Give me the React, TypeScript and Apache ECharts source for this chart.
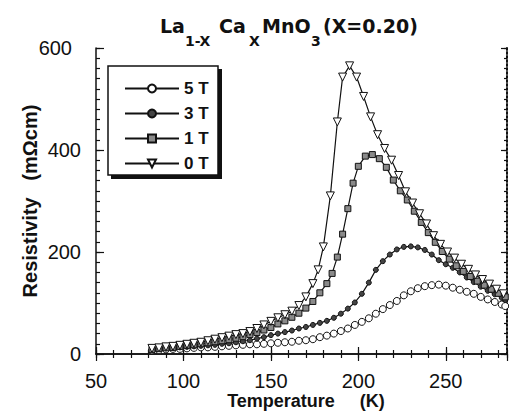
import React, { useEffect, useRef } from "react";
import * as echarts from "echarts";

// Temperature (K) and resistivity (mΩcm) readings for each field
const T5 = [82,86,90,94,98,102,106,110,114,118,122,126,130,134,138,142,146,150,154,158,162,166,170,174,178,182,186,190,194,198,202,206,210,214,218,222,226,230,234,238,242,246,250,254,258,262,266,270,274,278,282,284];
const R5 = [7,8,9,10,10,11,12,13,13,14,15,16,17,18,19,19,20,21,22,23,24,26,27,29,33,36,40,45,50,57,63,70,79,88,96,104,115,123,129,133,135,136,134,130,126,122,118,112,107,102,97,94];

const T3 = [82,86,90,94,98,102,106,110,114,118,122,126,130,134,138,142,146,150,154,158,162,166,170,174,178,182,186,190,194,198,202,206,210,214,218,222,226,230,234,238,242,246,250,254,258,262,266,270,274,278,282,284];
const R3 = [9,10,11,12,13,14,15,16,17,18,20,21,23,25,27,30,33,37,40,43,46,50,53,57,61,65,71,79,89,101,118,140,165,182,195,205,210,211,209,204,195,184,176,169,160,150,141,132,124,117,110,106];

const T1 = [82,86,90,94,98,102,106,110,114,118,122,126,130,134,138,142,146,150,154,158,162,166,170,174,178,182,185,188,191,194,197,200,204,208,212,216,220,224,228,232,236,240,244,248,252,256,260,264,268,272,276,280,284];
const R1 = [9,11,12,13,15,17,18,20,22,24,26,28,31,34,38,42,47,52,59,65,72,80,90,103,120,138,158,190,235,285,335,368,388,391,383,366,341,320,302,280,258,238,219,201,186,173,162,152,143,135,127,119,112];

const T0 = [82,86,90,94,98,102,106,110,114,118,122,126,130,134,138,142,146,150,154,158,162,166,170,174,177,180,184,188,191,195,199,203,207,211,215,219,223,227,231,235,239,243,247,251,255,259,263,267,271,275,279,283];
const R0 = [11,12,14,15,17,19,21,23,26,29,32,35,38,40,44,50,57,64,71,77,84,95,112,138,165,210,310,455,543,565,543,505,465,430,403,380,350,318,296,275,255,232,215,200,188,176,166,155,146,137,127,118];

const SERIES_NAMES = ["5 T", "3 T", "1 T", "0 T"];
const X_MIN = 50, X_MAX = 285, X_STEP = 50, X_MINOR = 10;
const Y_MIN = 0, Y_MAX = 600, Y_STEP = 200, Y_MINOR = 20;

const pairs = (t: number[], r: number[]) => t.map((v, i) => [v, r[i]]);

export default function App() {
  const ref = useRef<HTMLDivElement>(null);
  useEffect(() => {
    if (!ref.current) return;
    const chart = echarts.init(ref.current, null, { renderer: "svg" });
    const black = "#111";
    const labelFont = { fontFamily: "Liberation Sans", fontSize: 20, color: black };
    const xAx = (pos: string, interval: number, tickLen: number, main: boolean, labels: boolean, dotted = false) => ({
      type: "value", position: pos, min: X_MIN, max: X_MAX, interval,
      axisLine: { show: main, lineStyle: { color: black, width: 1.5, type: dotted ? "dotted" : "solid" } },
      axisTick: { show: true, inside: true, length: tickLen, lineStyle: { color: black, width: 1.2 } },
      axisLabel: labels ? { ...labelFont, margin: 17, showMaxLabel: false } : { show: false },
      splitLine: { show: false },
    });
    const yAx = (pos: string, interval: number, tickLen: number, main: boolean, labels: boolean, dotted = false) => ({
      type: "value", position: pos, min: Y_MIN, max: Y_MAX, interval,
      axisLine: { show: main, lineStyle: { color: black, width: dotted ? 2 : 1.5, type: dotted ? "dotted" : "solid" } },
      axisTick: { show: true, inside: true, length: tickLen, lineStyle: { color: black, width: 1.2 } },
      axisLabel: labels ? {
        ...labelFont, margin: 15,
        formatter: (v: number) => (v === 600 ? `{a|${v}}` : `{b|${v}}`),
        rich: {
          a: { fontFamily: "Liberation Sans", fontSize: 20, color: black, padding: [0, 9, 0, 0] },
          b: { fontFamily: "Liberation Sans", fontSize: 20, color: black },
        },
      } : { show: false },
      splitLine: { show: false },
    });
    const lineSeries = (name: string, data: number[][], symbol: string, size: number, fill: string, rotate = 0) => ({
      name, type: "line", data, xAxisIndex: 0, yAxisIndex: 0,
      symbol, symbolSize: size, symbolRotate: rotate, showAllSymbol: true,
      lineStyle: { color: black, width: 1.2 },
      itemStyle: { color: fill, borderColor: black, borderWidth: 1 },
      clip: true,
    });
    const titleFont = "DejaVu Sans";
    const tt = (text: string, x: number, y: number, size: number) => ({
      type: "text", x, y, z: 10,
      style: { text, fontFamily: titleFont, fontWeight: "bold", fontSize: size, fill: black, textVerticalAlign: "middle" },
    });
    chart.setOption({
      animation: false,
      backgroundColor: "#fff",
      grid: { left: 96, top: 48, right: 2, bottom: 63, containLabel: false },
      xAxis: [
        xAx("bottom", X_STEP, 7, true, true),
        xAx("bottom", X_MINOR, 4, false, false),
        xAx("top", X_STEP, 7, true, false),
        xAx("top", X_MINOR, 4, false, false),
      ],
      yAxis: [
        yAx("left", Y_STEP, 8, true, true),
        yAx("left", Y_MINOR, 4, false, false),
        yAx("right", Y_STEP, 6, true, false, true),
        yAx("right", Y_MINOR, 3, false, false),
      ],
      legend: {
        orient: "vertical", left: 119, top: 75, z: 12,
        itemWidth: 54, itemHeight: 10, itemGap: 8,
        textStyle: { fontFamily: "Liberation Sans", fontWeight: "bold", fontSize: 17, color: black },
        data: SERIES_NAMES,
      },
      series: [
        lineSeries(SERIES_NAMES[0], pairs(T5, R5), "circle", 7, "#fff"),
        lineSeries(SERIES_NAMES[1], pairs(T3, R3), "circle", 5, "#444"),
        lineSeries(SERIES_NAMES[2], pairs(T1, R1), "rect", 6, "#8a8a8a"),
        lineSeries(SERIES_NAMES[3], pairs(T0, R0), "triangle", 8, "#fff", 180),
      ],
      graphic: [
        { type: "rect", z: 8, shape: { x: 111, y: 69, width: 111, height: 110 }, style: { fill: "#111" } },
        { type: "rect", z: 9, shape: { x: 108, y: 66, width: 110, height: 109 }, style: { fill: "#fff", stroke: "#111", lineWidth: 1.5 } },
        tt("La", 160, 26, 19),
        tt("1-X", 185, 41, 14),
        tt("Ca", 219, 26, 19),
        tt("X", 249, 41, 14),
        tt("MnO", 262, 26, 19),
        tt("3", 311, 41, 14),
        tt("(X=0.20)", 323, 26, 19),
        {
          type: "text", x: 306, y: 401, z: 10,
          style: { text: "Temperature     (K)", fontFamily: "Liberation Sans", fontWeight: "bold", fontSize: 18, fill: black, textAlign: "center", textVerticalAlign: "middle" },
        },
        {
          type: "text", x: 30, y: 201, z: 10, rotation: Math.PI / 2,
          style: { text: "Resistivity   (mΩcm)", fontFamily: "Liberation Sans", fontWeight: "bold", fontSize: 20, fill: black, textAlign: "center", textVerticalAlign: "middle" },
        },
      ],
    });
    return () => chart.dispose();
  }, []);
  return <div ref={ref} style={{ position: "fixed", left: 0, top: 0, width: 509, height: 417 }} />;
}
